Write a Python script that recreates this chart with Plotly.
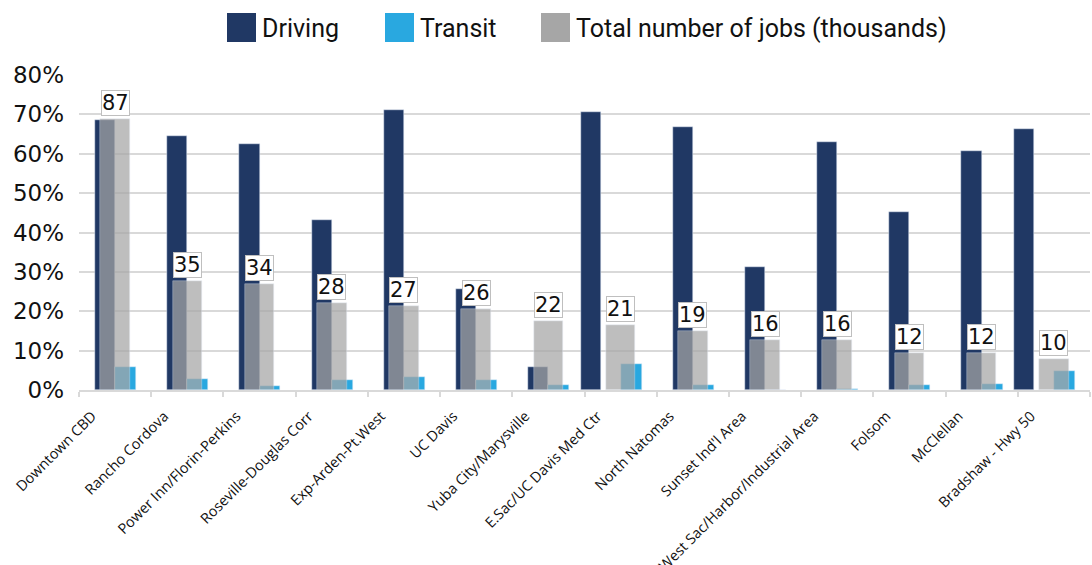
import plotly.graph_objects as go

categories = ["Downtown CBD", "Rancho Cordova", "Power Inn/Florin-Perkins",
              "Roseville-Douglas Corr", "Exp-Arden-Pt.West", "UC Davis",
              "Yuba City/Marysville", "E.Sac/UC Davis Med Ctr", "North Natomas",
              "Sunset Ind'l Area", "West Sac/Harbor/Industrial Area", "Folsom",
              "McClellan", "Bradshaw - Hwy 50"]
driving = [0.686, 0.644, 0.625, 0.432, 0.710, 0.257, 0.058, 0.705, 0.667,
           0.313, 0.630, 0.452, 0.608, 0.664]
transit = [0.059, 0.027, 0.010, 0.025, 0.033, 0.025, 0.013, 0.065, 0.013,
           0.000, 0.002, 0.013, 0.016, 0.047]
jobs = [87, 35, 34, 28, 27, 26, 22, 21, 19, 16, 16, 12, 12, 10]
series_names = ["Driving", "Transit", "Total number of jobs (thousands)"]

# bar placement (style, not data)
drive_offset = [-0.28] * len(categories)
for i in (7, 13):
    drive_offset[i] = -0.55

NAVY = "#203864"
BLUE = "#29A8E0"
GRAY = "#A6A6A6"
GRID = "#D9D9D9"

W, H = 1092, 565
ML, MR, MT, MB = 79, 2, 75, 175
PW, PH = W - ML - MR, H - MT - MB

def px_x(px):
    return (px - ML) / PW

def px_y(py):
    return (H - MB - py) / PH

fig = go.Figure()
fig.add_trace(go.Bar(x=categories, y=driving, name=series_names[0], marker_color=NAVY,
                     width=0.28, offset=drive_offset, yaxis="y"))
fig.add_trace(go.Bar(x=categories, y=transit, name=series_names[1], marker_color=BLUE,
                     width=0.29, offset=0.0, yaxis="y"))
fig.add_trace(go.Bar(x=categories, y=jobs, name=series_names[2],
                     marker_color=GRAY, opacity=0.72, width=0.41, offset=-0.205,
                     yaxis="y2"))

for c, v in zip(categories, jobs):
    fig.add_annotation(x=c, y=v, xref="x", yref="y2", text=str(v),
                       showarrow=False, yanchor="bottom", xanchor="center",
                       yshift=3, bgcolor="white", bordercolor="#BFBFBF",
                       borderwidth=1, borderpad=0,
                       font=dict(family="DejaVu Sans", size=21, color="#111111"))

# legend drawn as swatches + text
legend_items = [(series_names[0], NAVY, 227), (series_names[1], BLUE, 385),
                (series_names[2], GRAY, 541)]
for name, col, sx in legend_items:
    fig.add_shape(type="rect", xref="paper", yref="paper",
                  x0=px_x(sx), x1=px_x(sx + 29), y0=px_y(42), y1=px_y(13),
                  fillcolor=col, line=dict(width=0))
    fig.add_annotation(xref="paper", yref="paper", x=px_x(sx + 33), y=px_y(28),
                       text=name, showarrow=False, xanchor="left", yanchor="middle",
                       font=dict(family="Roboto", size=25, color="#111111"))

fig.update_layout(
    width=W, height=H,
    margin=dict(l=ML, r=MR, t=MT, b=MB, autoexpand=False),
    paper_bgcolor="white", plot_bgcolor="white",
    barmode="overlay", bargap=0,
    showlegend=False,
    xaxis=dict(range=[-0.5, len(categories) - 0.5], showgrid=False, showline=True,
               linecolor=GRID, linewidth=2, automargin=False,
               ticks="outside", tickson="boundaries", ticklen=5, tickcolor=GRID,
               tickwidth=2, tickangle=-45, ticklabelshift=-23, ticklabelstandoff=10,
               tickfont=dict(family="Open Sans", size=14.5, color="#111111")),
    yaxis=dict(range=[0, 0.8], dtick=0.1, tickformat=".0%", showgrid=True,
               gridcolor=GRID, gridwidth=2, zeroline=False, ticks="",
               automargin=False, ticklabelstandoff=14,
               tickfont=dict(family="DejaVu Sans", size=23, color="#111111")),
    yaxis2=dict(range=[0, 101], overlaying="y", side="right", visible=False,
                showgrid=False),
)

fig.write_html("out.html", config={"displayModeBar": False},
               post_script="document.body.style.margin='0px';")
